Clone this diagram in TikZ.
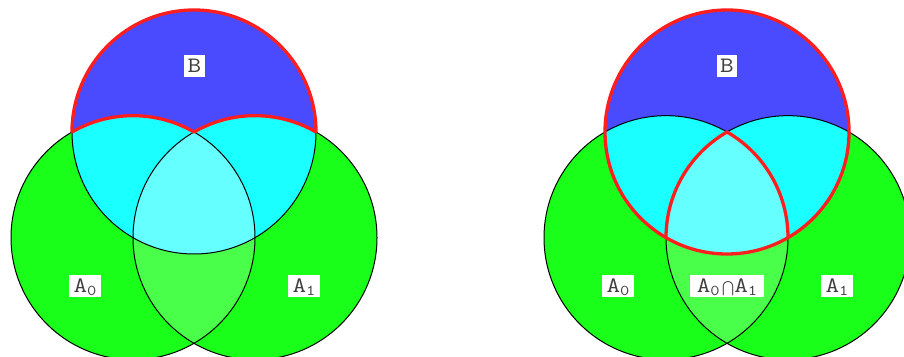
\documentclass[tikz,border=0pt]{standalone}
\usepackage{amsmath}
\usepackage{graphicx}
\definecolor{cgreen}{RGB}{26,255,26}
\definecolor{clgreen}{RGB}{74,255,74}
\definecolor{cblue}{RGB}{74,74,255}
\definecolor{ccyan}{RGB}{26,255,255}
\definecolor{clcyan}{RGB}{102,255,255}
\definecolor{cred}{RGB}{255,30,30}
\newcommand\wide[1]{\scalebox{1.2}[1]{#1}}
\newcommand\mysub[1]{\raisebox{-3.3pt}{\wide{\fontsize{15}{15}\selectfont #1}}}
\newcommand\mycap{\hspace{3pt}{\fontsize{14.6}{14.6}\selectfont$\bigcap$}\hspace{-0.5pt}}
\tikzset{
  outline/.style={draw=black, line width=1pt},
  redline/.style={draw=cred, line width=3.3pt, line cap=round, line join=round},
  lbl/.style={fill=white, inner xsep=3.5pt, inner ysep=3pt, text height=14.5pt, text depth=2pt,
    font=\fontsize{22}{22}\selectfont\ttfamily, text=black!75},
}
\newcommand\venn[2]{% #1 = B center x, #2 = suffix
  \coordinate (B#2) at (#1,224);
  \coordinate (P#2) at (#1-61,118.34);
  \coordinate (Q#2) at (#1+61,118.34);
  \fill[cgreen] (P#2) circle[radius=122];
  \fill[cgreen] (Q#2) circle[radius=122];
  \begin{scope}
    \clip (P#2) circle[radius=122];
    \fill[clgreen] (Q#2) circle[radius=122];
  \end{scope}
  \fill[cblue] (B#2) circle[radius=122];
  \begin{scope}
    \clip (B#2) circle[radius=122];
    \fill[ccyan] (P#2) circle[radius=122];
    \fill[ccyan] (Q#2) circle[radius=122];
    \clip (P#2) circle[radius=122];
    \fill[clcyan] (Q#2) circle[radius=122];
  \end{scope}
  \draw[outline] (P#2) circle[radius=122];
  \draw[outline] (Q#2) circle[radius=122];
  \draw[outline] (B#2) circle[radius=122];
}
\begin{document}
\begin{tikzpicture}[x=1pt,y=1pt]
\useasboundingbox (0,0) rectangle (904,356);
\fill[white] (0,0) rectangle (904,356);
% left diagram
\venn{194}{L}
\draw[redline] ([shift={(122,0)}]BL) arc[start angle=0, end angle=180, radius=122]
  arc[start angle=120, end angle=60, radius=122]
  arc[start angle=120, end angle=60, radius=122];
\node[lbl, minimum width=19] (bL) at (194.5,290) {\wide{B}};
\node[lbl, minimum width=32] (a0L) at (85,70) {\wide{A}\mysub{0}};
\node[lbl, minimum width=32] (a1L) at (304,70) {\wide{A}\mysub{1}};
% right diagram
\venn{727}{R}
\draw[redline] (BR) circle[radius=122];
\draw[redline] (BR) arc[start angle=120, end angle=180, radius=122];
\draw[redline] (BR) arc[start angle=60, end angle=0, radius=122];
\node[lbl, minimum width=19] (bR) at (727,290) {\wide{B}};
\node[lbl, minimum width=32] (a0R) at (618,70) {\wide{A}\mysub{0}};
\node[lbl, minimum width=74] (a01R) at (727,70) {\wide{A}\mysub{0}\mycap\wide{A}\mysub{1}};
\node[lbl, minimum width=32] (a1R) at (837,70) {\wide{A}\mysub{1}};
\end{tikzpicture}
\end{document}
